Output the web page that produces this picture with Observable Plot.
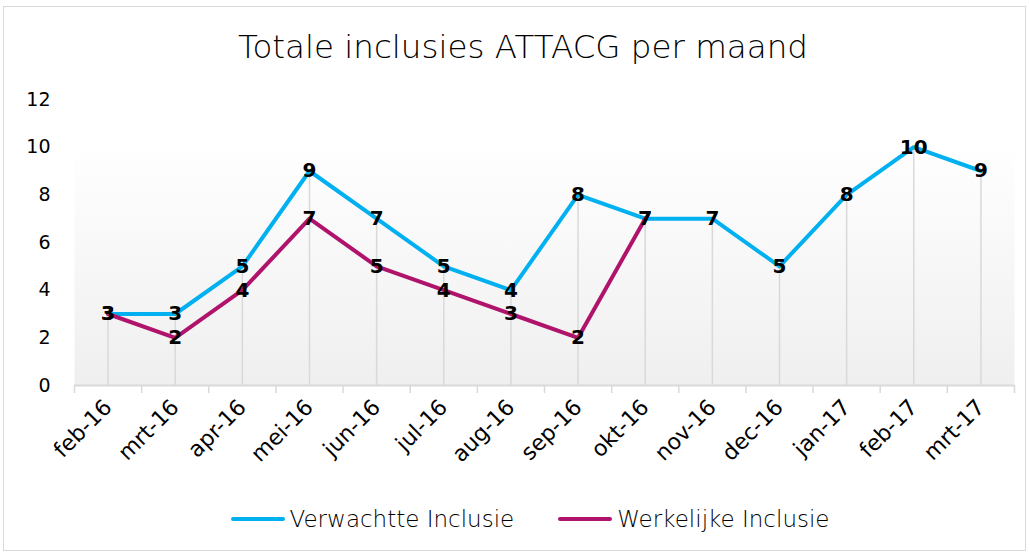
<!DOCTYPE html>
<html>
<head>
<meta charset="utf-8">
<script src="https://cdn.jsdelivr.net/npm/d3@7"></script>
<script src="https://cdn.jsdelivr.net/npm/@observablehq/plot@0.6"></script>
<style>
  html, body { margin: 0; padding: 0; background: #fff; }
  #wrap { position: relative; width: 1030px; height: 554px; font-family: "DejaVu Sans", sans-serif; color: #000; overflow: hidden; }
  #border { position: absolute; left: 3px; top: 6px; width: 1023px; height: 545px; border: 1px solid #d9d9d9; box-sizing: border-box; }
  #title { position: absolute; left: 8px; top: 28px; width: 1030px; text-align: center; font-size: 32.5px; font-weight: 300; }
  #chart { position: absolute; left: 0; top: 80px; }
  #legend { position: absolute; left: 15px; top: 506px; width: 1030px; display: flex; justify-content: center; gap: 44px; font-size: 23px; font-weight: 300; }
  .item { display: flex; align-items: center; }
  .swatch { width: 54px; height: 4px; border-radius: 2px; margin-right: 5px; }
</style>
</head>
<body>
<div id="wrap">
  <div id="border"></div>
  <div id="title">Totale inclusies ATTACG per maand</div>
  <div id="chart"></div>
  <div id="legend"></div>
</div>
<script>
const months = ["feb-16","mrt-16","apr-16","mei-16","jun-16","jul-16","aug-16","sep-16","okt-16","nov-16","dec-16","jan-17","feb-17","mrt-17"];
const verwacht = [3,3,5,9,7,5,4,8,7,7,5,8,10,9];
const werkelijk = [3,2,4,7,5,4,3,2,7];
const yTicks = [0,2,4,6,8,10,12];
const seriesNames = ["Verwachtte Inclusie","Werkelijke Inclusie"];
const seriesColors = ["#00b0f0","#b0136b"];

const vRows = verwacht.map((v,i) => ({i, v}));
const wRows = werkelijk.map((v,i) => ({i, v}));

const chart = Plot.plot({
  width: 1030,
  height: 390,
  marginTop: 19,
  marginBottom: 85,
  marginLeft: 74,
  marginRight: 16,
  style: { fontFamily: "DejaVu Sans, sans-serif", fontSize: "18px", color: "#000", background: "transparent" },
  x: { type: "linear", domain: [-0.5, months.length - 0.5] },
  y: { domain: [0, 12] },
  marks: [
    Plot.frame({ fill: "url(#bg)", stroke: "none" }),
    Plot.ruleX(vRows, { x: "i", y1: 0, y2: "v", stroke: "#d9d9d9", strokeWidth: 1.5 }),
    Plot.ruleY([0], { stroke: "#d9d9d9", strokeWidth: 2 }),
    Plot.axisX({ ticks: d3.range(-0.5, months.length, 1), tickFormat: () => "", tickSize: 8, stroke: "#d9d9d9", strokeWidth: 1.5, strokeOpacity: 1, label: null }),
    Plot.axisX({ ticks: d3.range(0, months.length), tickFormat: i => months[i], tickRotate: -45, tickSize: 0, tickPadding: 18, fontSize: 22, label: null }),
    Plot.axisY({ ticks: yTicks, tickSize: 0, tickPadding: 24, fontSize: 19, label: null }),
    Plot.line(vRows, { x: "i", y: "v", stroke: seriesColors[0], strokeWidth: 4 }),
    Plot.line(wRows, { x: "i", y: "v", stroke: seriesColors[1], strokeWidth: 4 }),
    Plot.text(wRows, { x: "i", y: "v", text: "v", fontWeight: "bold", fontSize: 20, fill: "#000" }),
    Plot.text(vRows, { x: "i", y: "v", text: "v", fontWeight: "bold", fontSize: 20, fill: "#000" })
  ]
});

const svg = d3.select(chart);
const grad = svg.insert("defs", ":first-child").append("linearGradient")
  .attr("id", "bg").attr("x1", 0).attr("y1", 0).attr("x2", 0).attr("y2", 1);
grad.append("stop").attr("offset", "0%").attr("stop-color", "#ffffff");
grad.append("stop").attr("offset", "15%").attr("stop-color", "#ffffff");
grad.append("stop").attr("offset", "100%").attr("stop-color", "#efefef");

document.getElementById("chart").appendChild(chart);

const legend = d3.select("#legend");
seriesNames.forEach((name, k) => {
  const it = legend.append("div").attr("class", "item");
  it.append("div").attr("class", "swatch").style("background", seriesColors[k]);
  it.append("span").text(name);
});
</script>
</body>
</html>
